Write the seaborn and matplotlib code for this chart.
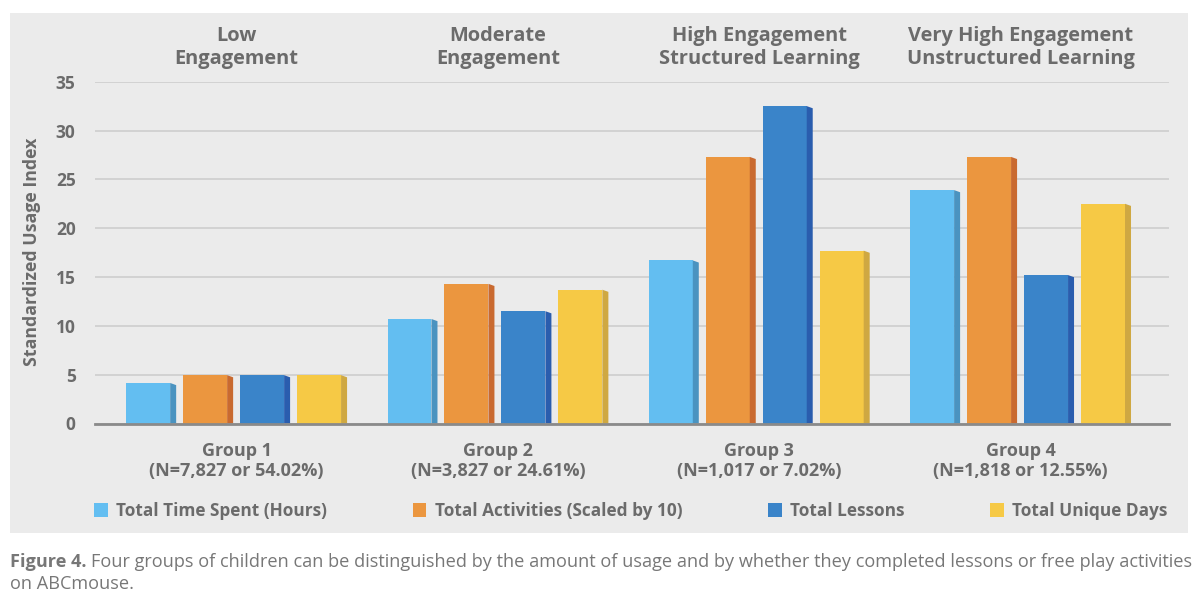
import matplotlib
matplotlib.use("Agg")
import matplotlib.pyplot as plt
import matplotlib.patches as mpatches
import matplotlib.transforms as mtransforms
import seaborn as sns
import pandas as pd

# ---------------- data ----------------
groups = ["Group 1\n(N=7,827 or 54.02%)", "Group 2\n(N=3,827 or 24.61%)",
          "Group 3\n(N=1,017 or 7.02%)", "Group 4\n(N=1,818 or 12.55%)"]
headers = ["Low\nEngagement", "Moderate\nEngagement",
           "High Engagement\nStructured Learning", "Very High Engagement\nUnstructured Learning"]
series = ["Total Time Spent (Hours)", "Total Activities (Scaled by 10)",
          "Total Lessons", "Total Unique Days"]
time_spent = [4.15, 10.7, 16.7, 23.9]
activities = [4.95, 14.3, 27.3, 27.3]
lessons = [4.95, 11.5, 32.5, 15.2]
unique_days = [4.95, 13.7, 17.7, 22.5]
yticks = [0, 5, 10, 15, 20, 25, 30, 35]

face_colors = ["#63BEF1", "#EB963F", "#3A84C9", "#F6C945"]
side_colors = ["#4A93C0", "#C96A30", "#2A5DAE", "#CFA842"]
TXT = "#6b6b6b"
FONT = ["Open Sans", "DejaVu Sans"]

rows = []
for name, vals in zip(series, [time_spent, activities, lessons, unique_days]):
    for g, v in zip(groups, vals):
        rows.append({"group": g, "series": name, "value": v})
df = pd.DataFrame(rows)

# ---------------- figure ----------------
sns.set_theme(style="white")
plt.rcParams["font.family"] = FONT
W, H = 1200, 609
fig = plt.figure(figsize=(12, 6.09), dpi=100)
fig.patch.set_facecolor("white")
fig.patches.append(mpatches.Rectangle((10 / W, 1 - 533 / H), 1178 / W, 520 / H,
                                      transform=fig.transFigure, facecolor="#EBEBEB",
                                      edgecolor="none", zorder=-5))

ax = fig.add_axes([95 / W, 1 - 423.5 / H, (1169 - 95) / W, (423.5 - 81.7) / H])
ax.set_zorder(2)
ax.set_facecolor("none")

sns.barplot(data=df, x="group", y="value", hue="series", hue_order=series,
            palette=face_colors, width=0.872, gap=0.123, saturation=1,
            legend=False, ax=ax, zorder=3, linewidth=0)

# 3D-look side strips derived from the drawn bars
color_map = {matplotlib.colors.to_hex(c).lower(): s for c, s in zip(face_colors, side_colors)}
bars = [p for p in ax.patches if isinstance(p, mpatches.Rectangle)]
for p in bars:
    x0, w, h = p.get_x(), p.get_width(), p.get_height()
    fc = matplotlib.colors.to_hex(p.get_facecolor()).lower()
    side_w = w * 0.12
    p.set_width(w - side_w)
    xf = x0 + w - side_w
    d = 0.22
    poly = mpatches.Polygon([(xf, 0), (xf, h), (x0 + w, h - d), (x0 + w, 0)],
                            closed=True, facecolor=color_map.get(fc, fc),
                            edgecolor="none", zorder=3)
    ax.add_patch(poly)

ax.set_xlim(-0.542, 3.568)
ax.set_ylim(0, 35)
ax.set_yticks(yticks)
ax.set_yticklabels([str(t) for t in yticks])
ax.grid(axis="y", color="#CDCDCD", linewidth=1.2, zorder=0)
ax.set_axisbelow(True)
for s in ["top", "right", "left"]:
    ax.spines[s].set_visible(False)
ax.spines["bottom"].set_color("#8A8A8A")
ax.spines["bottom"].set_linewidth(2)
ax.spines["bottom"].set_zorder(4)
ax.tick_params(axis="y", length=0, pad=14, labelsize=12.5, labelcolor=TXT)
ax.tick_params(axis="x", length=0, pad=13, labelsize=13, labelcolor=TXT)
for lab in ax.get_yticklabels():
    lab.set_fontweight("bold")
for lab in ax.get_xticklabels():
    lab.set_fontweight("bold")
    lab.set_linespacing(1.2)
ax.set_xlabel("")
ax.set_ylabel("")

# group headers
trans = mtransforms.blended_transform_factory(ax.transData, fig.transFigure)
for i, hd in enumerate(headers):
    ax.text(i, 1 - 47.5 / H, hd, transform=trans, ha="center", va="center",
            fontsize=14.4, fontweight="bold", color=TXT, linespacing=1.22)

fig.text(32 / W, 1 - 252 / H, "Standardized Usage Index", rotation=90,
         ha="center", va="center", fontsize=12.8, fontweight="bold", color=TXT)

# legend
handles = [mpatches.Patch(facecolor=c, edgecolor="none") for c in face_colors]
leg = fig.legend(handles, series, ncol=4, loc="center left",
                 bbox_to_anchor=(94 / W, 1 - 511 / H), frameon=False,
                 handlelength=0.8, handleheight=0.8, handletextpad=0.5,
                 columnspacing=4.95, borderpad=0, borderaxespad=0,
                 prop={"family": FONT, "weight": "bold", "size": 12.4})
for t in leg.get_texts():
    t.set_color(TXT)

# caption
fig.canvas.draw()
renderer = fig.canvas.get_renderer()
t1 = fig.text(10 / W, 1 - 562 / H, "Figure 4.", ha="left", va="center",
              fontsize=13.1, fontweight="bold", color="#777777")
bb = t1.get_window_extent(renderer)
fig.text((bb.x1 + 4) / W, 1 - 562 / H,
         "Four groups of children can be distinguished by the amount of usage and by whether they completed lessons or free play activities",
         ha="left", va="center", fontsize=13.1, color="#777777")
fig.text(10 / W, 1 - 584 / H, "on ABCmouse.", ha="left", va="center",
         fontsize=13.1, color="#777777")

fig.savefig("out.png", dpi=100, facecolor="white")
